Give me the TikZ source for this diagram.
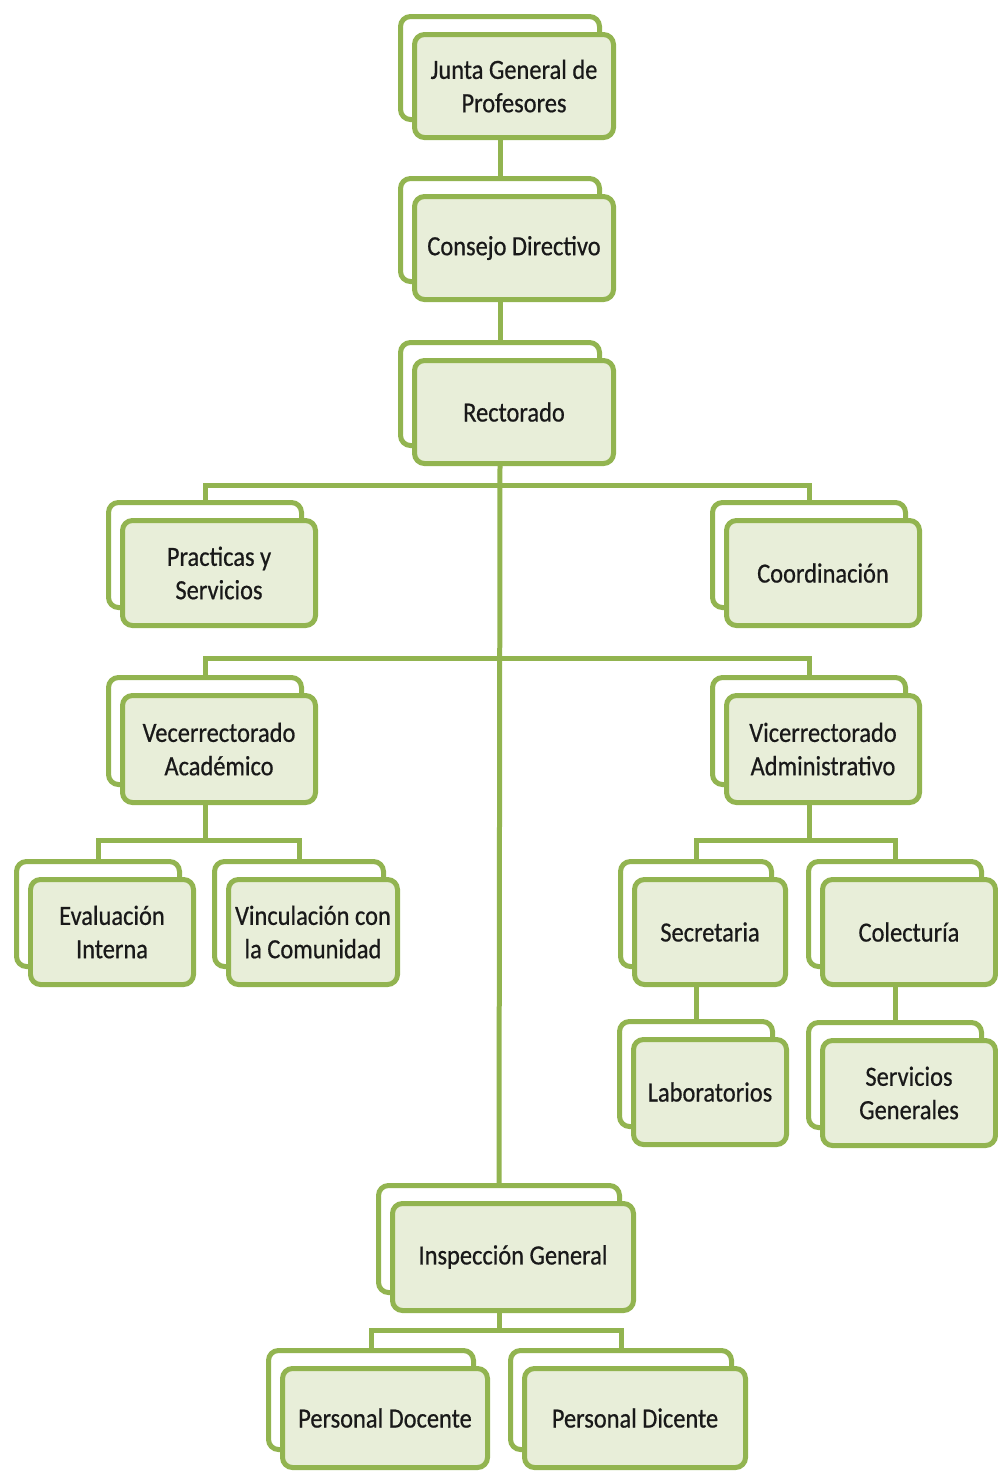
\documentclass[tikz,border=0pt]{standalone}
\usepackage{fontspec}
\setmainfont[FakeStretch=0.88,FakeBold=0.6]{Carlito}
\usepackage{tikz}
\usetikzlibrary{shadows}
\definecolor{ogreen}{RGB}{146,180,80}
\definecolor{ofill}{RGB}{232,238,217}
\definecolor{otext}{RGB}{25,25,25}
\tikzset{
	org node/.style={rectangle,rounded corners=0.2cm,draw=ogreen,fill=ofill,
		line width=0.1cm,align=center,text=otext,font=\fontsize{15.8}{19}\selectfont,
		inner sep=0pt,
		general shadow={shadow xshift=-0.28cm,shadow yshift=0.36cm,opacity=1,
			fill=white,draw=ogreen,line width=0.1cm}},
	conn/.style={draw=ogreen,line width=0.1cm}
}

\begin{document}
\begin{tikzpicture}[x=0.02cm,y=-0.02cm,
		    box/.style 2 args={org node,minimum width=#1*0.02cm-0.1cm,minimum height=#2*0.02cm-0.1cm}]
		    \useasboundingbox (0,0) rectangle (998,1472);
		    % boxes
		    \node [box={204}{108}] (junta) at (514,86) {Junta General de\\Profesores};
		    \node [box={204}{108}] (consejo) at (514,248) {Consejo Directivo};
		    \node [box={204}{108}] (rector) at (514,412) {Rectorado};
		    \node [box={198}{110}] (practicas) at (219,573) {Practicas y\\Servicios};
		    \node [box={198}{110}] (coord) at (823,573) {Coordinación};
		    \node [box={198}{112}] (vece) at (219,749) {Vecerrectorado\\Académico};
		    \node [box={198}{112}] (vice) at (823,749) {Vicerrectorado\\Administrativo};
		    \node [box={168}{110}] (evalua) at (112,932) {Evaluación\\Interna};
		    \node [box={174}{110}] (vincula) at (313,932) {Vinculación con\\la Comunidad};
		    \node [box={156}{110}] (secret) at (710,932) {Secretaria};
		    \node [box={178}{110}] (colect) at (909,932) {Colecturía};
		    \node [box={158}{110}] (labor) at (710,1092) {Laboratorios};
		    \node [box={178}{110}] (servgen) at (909,1093) {Servicios\\Generales};
		    \node [box={246}{112}] (inspec) at (513,1257) {Inspección General};
		    \node [box={210}{104}] (pdoc) at (385,1418) {Personal Docente};
		    \node [box={226}{104}] (pdic) at (635,1418) {Personal Dicente};
		    % junctions
		    \coordinate (j1) at (500,485);
		    \coordinate (j2) at (500,658);
		    \coordinate (j3) at (205,840);
		    \coordinate (j4) at (809,840);
		    \coordinate (j5) at (499,1330);
		    % connectors
		    \draw [conn] ([shift={(-14,0)}]junta.south) -- ([shift={(-14,-18)}]consejo.north);
		    \draw [conn] ([shift={(-14,0)}]consejo.south) -- ([shift={(-14,-18)}]rector.north);
		    \draw [conn] ([shift={(-14,0)}]rector.south) -- ([shift={(-14,-18)}]inspec.north);
		    \draw [conn] ([shift={(-14,-18)}]practicas.north) |- (j1) -| ([shift={(-14,-18)}]coord.north);
		    \draw [conn] ([shift={(-14,-18)}]vece.north) |- (j2) -| ([shift={(-14,-18)}]vice.north);
		    \draw [conn] ([shift={(-14,0)}]vece.south) -- (j3);
		    \draw [conn] ([shift={(-14,-18)}]evalua.north) |- (j3) -| ([shift={(-14,-18)}]vincula.north);
		    \draw [conn] ([shift={(-14,0)}]vice.south) -- (j4);
		    \draw [conn] ([shift={(-14,-18)}]secret.north) |- (j4) -| ([shift={(-14,-18)}]colect.north);
		    \draw [conn] ([shift={(-14,0)}]secret.south) -- ([shift={(-14,-18)}]labor.north);
		    \draw [conn] ([shift={(-14,0)}]colect.south) -- ([shift={(-14,-18)}]servgen.north);
		    \draw [conn] ([shift={(-14,0)}]inspec.south) -- (j5);
		    \draw [conn] ([shift={(-14,-18)}]pdoc.north) |- (j5) -| ([shift={(-14,-18)}]pdic.north);
		  \end{tikzpicture}
\end{document}
